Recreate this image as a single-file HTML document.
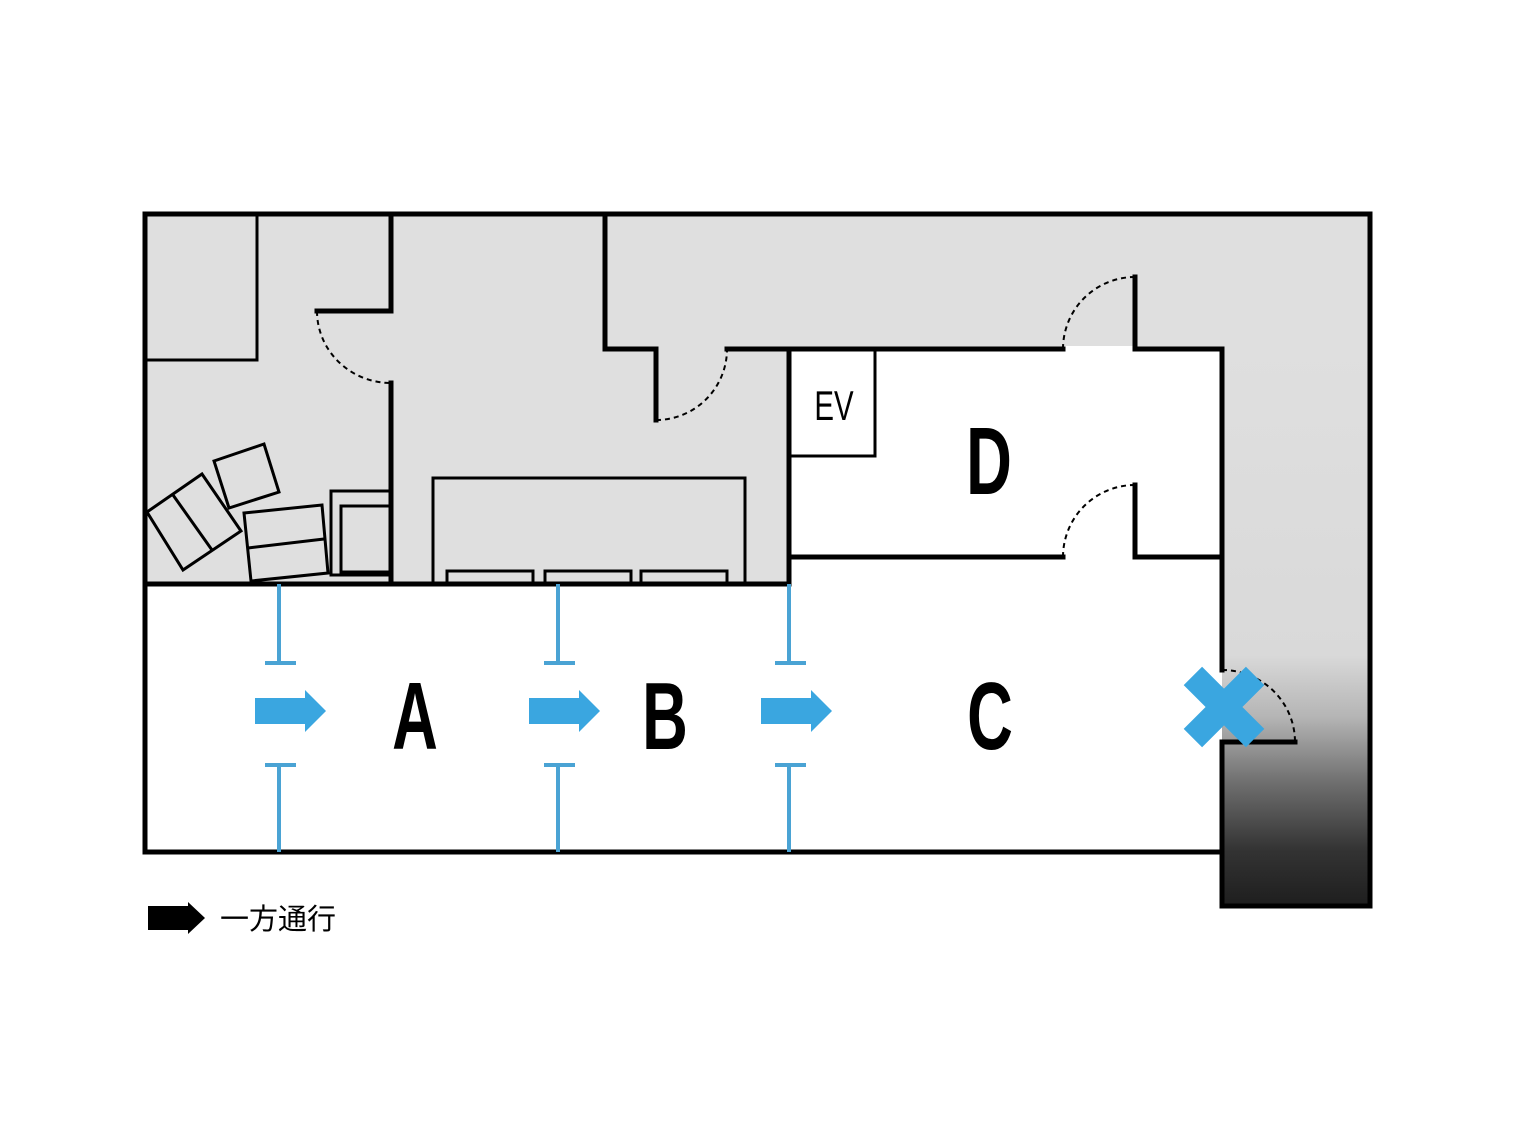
<!DOCTYPE html>
<html><head><meta charset="utf-8"><style>body{margin:0;background:#fff}</style></head><body>
<svg width="1536" height="1140" viewBox="0 0 1536 1140" xmlns="http://www.w3.org/2000/svg">
<defs>
<linearGradient id="g" gradientUnits="userSpaceOnUse" x1="0" y1="349" x2="0" y2="906">
<stop offset="0" stop-color="#dfdfdf"/><stop offset="0.55" stop-color="#d9d9d9"/><stop offset="0.66" stop-color="#b5b5b5"/><stop offset="0.78" stop-color="#6e6e6e"/><stop offset="0.9" stop-color="#333"/><stop offset="1" stop-color="#1e1e1e"/>
</linearGradient>
</defs>
<rect x="145" y="214" width="1225" height="370" fill="#dfdfdf"/>
<rect x="1222" y="349" width="148" height="557" fill="url(#g)"/>
<rect x="789" y="349" width="433" height="503" fill="#fff"/>
<rect x="1063" y="346" width="72" height="6" fill="#fff"/>
<rect x="145" y="584" width="644" height="268" fill="#fff"/>
<g fill="none" stroke="#000" stroke-width="5" stroke-linecap="square">
<path d="M145 214H1370V906M145 214V852H1222M1222 906H1370"/>
<path d="M145 584H789"/>
<path d="M391 214V311H317M391 383V584"/>
<path d="M605 214V349H656V420M727 349H1063M1135 277V349H1222V670M1222 742V906M1222 742H1295"/>
<path d="M789 349V584M789 557H1063M1135 485V557H1222"/>
</g>
<g fill="none" stroke="#000" stroke-width="3">
<path d="M789 456H875V349"/>
<path d="M257 214V360H145"/>
<rect x="433" y="478" width="312" height="106"/>
<path d="M447 584V571H533V584M545 584V571H631V584M641 584V571H727V584"/>
<polygon points="147,512 202,474 241,531 183,570"/>
<line x1="173" y1="495" x2="212" y2="550"/>
<polygon points="214,461 264,444 279,492 229,508"/>
<polygon points="244,513 322,505 328,573 251,581"/>
<line x1="248" y1="548" x2="324" y2="539"/>
<path d="M389 491H331V575H389M389 506H341V572H389"/>
</g>
<g fill="none" stroke="#000" stroke-width="2" stroke-dasharray="5,4">
<path d="M317 311A74 72 0 0 0 391 383"/>
<path d="M656 420A71 71 0 0 0 727 349"/>
<path d="M1063 349A72 72 0 0 1 1135 277"/>
<path d="M1063 557A72 72 0 0 1 1135 485"/>
<path d="M1222 670A73 72 0 0 1 1295 742"/>
</g>
<g stroke="#4aa3d4" stroke-width="4" fill="none">
<path d="M279 584V663M265 663H296M279 852V765M265 765H296"/>
<path d="M558 584V663M544 663H575M558 852V765M544 765H575"/>
<path d="M789 584V663M775 663H806M789 852V765M775 765H806"/>
</g>
<g fill="#3aa6e0">
<polygon points="255,698 305,698 305,690 326,711 305,732 305,724 255,724"/>
<polygon points="529,698 579,698 579,690 600,711 579,732 579,724 529,724"/>
<polygon points="761,698 811,698 811,690 832,711 811,732 811,724 761,724"/>
<g transform="translate(1224,707) rotate(45)"><rect x="-44" y="-13" width="88" height="26"/><rect x="-13" y="-44" width="26" height="88"/></g>
</g>
<g font-family="Liberation Sans, sans-serif" font-size="96" font-weight="bold" text-anchor="middle" fill="#000">
<text transform="translate(415,749) scale(0.66,1)">A</text>
<text transform="translate(665,749) scale(0.66,1)">B</text>
<text transform="translate(990,749) scale(0.66,1)">C</text>
<text transform="translate(989,494) scale(0.66,1)">D</text>
<text transform="translate(834,420) scale(0.7,1)" font-size="42" font-weight="normal">EV</text>
</g>
<polygon points="148,906 188,906 188,902 205,918 188,934 188,930 148,930" fill="#000"/>
<text x="220" y="929" font-family="Liberation Sans, 'Noto Sans CJK JP', sans-serif" font-size="29" fill="#000">一方通行</text>
</svg>
</body></html>
